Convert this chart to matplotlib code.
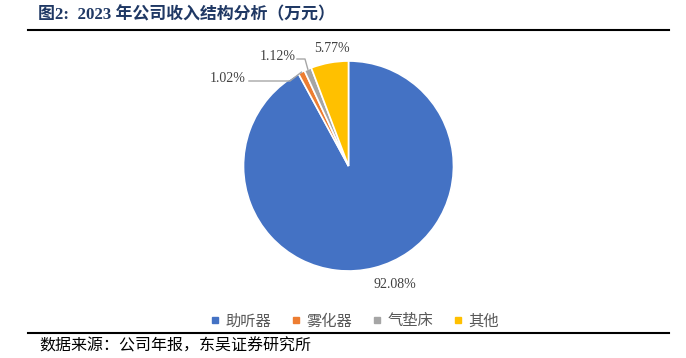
import matplotlib
matplotlib.use("Agg")
import matplotlib.pyplot as plt
from matplotlib.lines import Line2D
import numpy as np

# 数据
categories = ["助听器", "雾化器", "气垫床", "其他"]
shares = [92.08, 1.02, 1.12, 5.77]
colors = ["#4472C4", "#ED7D31", "#A5A5A5", "#FFC000"]

title = "图2:  2023 年公司收入结构分析（万元）"
source = "数据来源：公司年报，东吴证券研究所"

W, H = 686, 358
fig = plt.figure(figsize=(W / 100, H / 100), dpi=100)
ax = fig.add_axes([0, 0, 1, 1])
ax.set_aspect("equal")

# пирог (в пикселях, y снизу)
cx, cy, r = 348.5, H - 166, 105
wedges, _ = ax.pie(shares, colors=colors, startangle=90, counterclock=False,
                   center=(cx, cy), radius=r, frame=True,
                   wedgeprops=dict(edgecolor="white", linewidth=1.2))
ax.set_xlim(0, W)
ax.set_ylim(0, H)
ax.axis("off")

# подписи: позиции текста (px от верхнего левого угла)
label_pos = [(395, 285), (228, 79), (278, 56), (332, 49)]
serif = ["Liberation Serif", "Noto Sans CJK SC"]
for w, v, (tx, ty) in zip(wedges, shares, label_pos):
    ax.text(tx, H - ty, f"{v:.2f}%", ha="center", va="center",
            fontsize=10, color="#404040", family=serif)

# выноски для маленьких долей
for i, (x0, y0, xm) in zip([1, 2], [(249, 81, 290), (297, 59, 305)]):
    w = wedges[i]
    ang = np.deg2rad((w.theta1 + w.theta2) / 2)
    ex, ey = cx + r * np.cos(ang), cy + r * np.sin(ang)
    ax.plot([x0, xm, ex], [H - y0, H - y0, ey], color="#A6A6A6", lw=1)

# заголовок и линии
fig.text(38 / W, 1 - 15 / H, title, fontsize=12.2, fontweight="bold",
         color="#1F3864", va="center", ha="left", family=serif)
ax.plot([28, 669], [H - 30, H - 30], color="black", lw=1.5)
ax.plot([28, 669], [H - 333, H - 333], color="black", lw=1.5)
fig.text(39 / W, 1 - 346 / H, source, fontsize=11.5, color="black",
         va="center", ha="left", family=serif)

# легенда
handles = [Line2D([], [], marker="s", linestyle="", markersize=5,
                  markerfacecolor=c, markeredgecolor=c) for c in colors]
leg = fig.legend(handles, categories, loc="center", ncol=4,
                 bbox_to_anchor=(353 / W, 1 - 321 / H), frameon=False,
                 handletextpad=0.2, columnspacing=1.1, handlelength=1.0,
                 prop={"family": "Noto Sans CJK SC", "size": 11})
for t in leg.get_texts():
    t.set_color("#595959")

fig.savefig("out.png", dpi=100)
